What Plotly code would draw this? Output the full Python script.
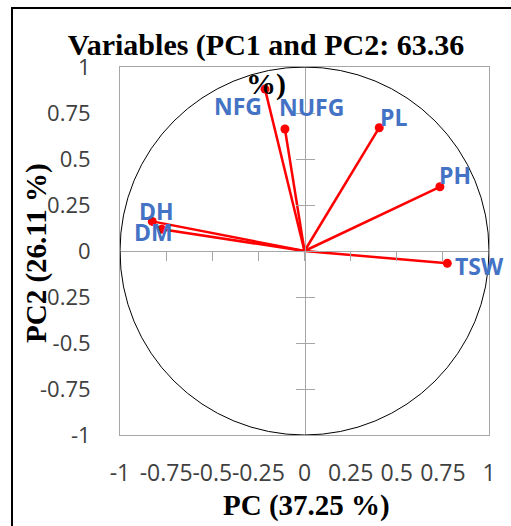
import plotly.graph_objects as go

# ---- data ----
variables = ["NFG", "NUFG", "PL", "PH", "TSW", "DH", "DM"]
pc1 = [-0.214, -0.106, 0.405, 0.734, 0.774, -0.825, -0.774]
pc2 = [0.880, 0.663, 0.670, 0.349, -0.067, 0.161, 0.118]
tick_vals = [-1, -0.75, -0.5, -0.25, 0, 0.25, 0.5, 0.75, 1]
tick_text = ["-1", "-0.75", "-0.5", "-0.25", "0", "0.25", "0.5", "0.75", "1"]
title_text = "Variables (PC1 and PC2: 63.36<br>%)"
x_title = "PC (37.25 %)"
y_title = "PC2 (26.11 %)"

# ---- style ----
W, H = 511, 526
ML, MR, MT, MB = 120, 22, 67, 91
PW, PH_ = W - ML - MR, H - MT - MB
label_shift = {  # pixel offsets of the variable labels from their points
    "NFG": (-27, -17), "NUFG": (27, 22), "PL": (14, 11), "PH": (15, 12),
    "TSW": (32, -3), "DH": (4, 10), "DM": (-8, -3),
}
RED = "#FF0000"
BLUE = "#4472C4"
GRAY = "#A6A6A6"
SERIF = "Liberation Serif"
SANS = "Open Sans"

fig = go.Figure()

for name, x, y in zip(variables, pc1, pc2):
    fig.add_trace(go.Scatter(x=[0, x], y=[0, y], mode="lines",
                             line=dict(color=RED, width=2.5),
                             hoverinfo="skip", showlegend=False))
fig.add_trace(go.Scatter(x=pc1, y=pc2, mode="markers",
                         marker=dict(color=RED, size=9),
                         showlegend=False))

# invisible traces to create the centre axes
fig.add_trace(go.Scatter(x=[0], y=[0], xaxis="x2", yaxis="y2", mode="markers",
                         marker=dict(opacity=0), hoverinfo="skip", showlegend=False))
fig.add_trace(go.Scatter(x=[0], y=[0], xaxis="x2", yaxis="y3", mode="markers",
                         marker=dict(opacity=0), hoverinfo="skip", showlegend=False))

for name, x, y in zip(variables, pc1, pc2):
    dx, dy = label_shift[name]
    fig.add_annotation(x=x, y=y, xref="x", yref="y", text=name, showarrow=False,
                       xshift=dx, yshift=dy,
                       font=dict(family=SANS, size=23, color=BLUE, weight="bold"))

# unit circle
fig.add_shape(type="circle", xref="x", yref="y", x0=-1, y0=-1, x1=1, y1=1,
              line=dict(color="#000000", width=1), layer="above")

# outer frame (black, left & top visible)
fig.add_shape(type="rect", xref="paper", yref="paper",
              x0=(12 - ML) / PW, x1=(W + 20 - ML) / PW,
              y0=-(H + 20 - MT - PH_) / PH_, y1=(H - 8 - MB) / PH_,
              line=dict(color="#000000", width=2))

axis_common = dict(range=[-1, 1], showgrid=False, zeroline=False, fixedrange=True)

fig.update_layout(
    width=W, height=H,
    margin=dict(l=ML, r=MR, t=MT, b=MB, pad=0),
    paper_bgcolor="white", plot_bgcolor="white",
    showlegend=False,
    title=dict(text=title_text, x=266 / W, xanchor="center", xref="container",
               y=1 - 55 / H, yanchor="top", yref="container",
               font=dict(family=SERIF, size=30, color="#000000", weight="bold")),
    xaxis=dict(**axis_common, showline=True, mirror=True, linecolor=GRAY, linewidth=1,
               tickmode="array", tickvals=tick_vals, ticktext=tick_text,
               ticks="", tickangle=0, ticklabelstandoff=17,
               tickfont=dict(family=SANS, size=23, color="#404040")),
    yaxis=dict(**axis_common, showline=True, mirror=True, linecolor=GRAY, linewidth=1,
               tickmode="array", tickvals=tick_vals, ticktext=tick_text,
               ticks="", ticklabelstandoff=24,
               tickfont=dict(family=SANS, size=22, color="#404040")),
    xaxis2=dict(**axis_common, overlaying="x", anchor="free", position=0.5,
                showline=True, linecolor=GRAY, linewidth=1,
                tickmode="array", tickvals=tick_vals, ticks="outside",
                ticklen=9, tickcolor=GRAY, showticklabels=False),
    yaxis2=dict(**axis_common, overlaying="y", anchor="free", position=0.5, side="left",
                showline=True, linecolor=GRAY, linewidth=1,
                tickmode="array", tickvals=tick_vals, ticks="outside",
                ticklen=9, tickcolor=GRAY, showticklabels=False),
    yaxis3=dict(**axis_common, overlaying="y", anchor="free", position=0.5, side="right",
                showline=False,
                tickmode="array", tickvals=tick_vals, ticks="outside",
                ticklen=9, tickcolor=GRAY, showticklabels=False),
)

fig.add_annotation(text=x_title, xref="paper", yref="paper",
                   x=(306 - ML) / PW, y=-(505 - MT - PH_) / PH_,
                   xanchor="center", yanchor="middle", showarrow=False,
                   font=dict(family=SERIF, size=29, color="#000000", weight="bold"))
fig.add_annotation(text=y_title, xref="paper", yref="paper",
                   x=(36 - ML) / PW, y=(H - MB - 253) / PH_,
                   xanchor="center", yanchor="middle", textangle=-90, showarrow=False,
                   font=dict(family=SERIF, size=29, color="#000000", weight="bold"))

fig.write_html("out.html")
